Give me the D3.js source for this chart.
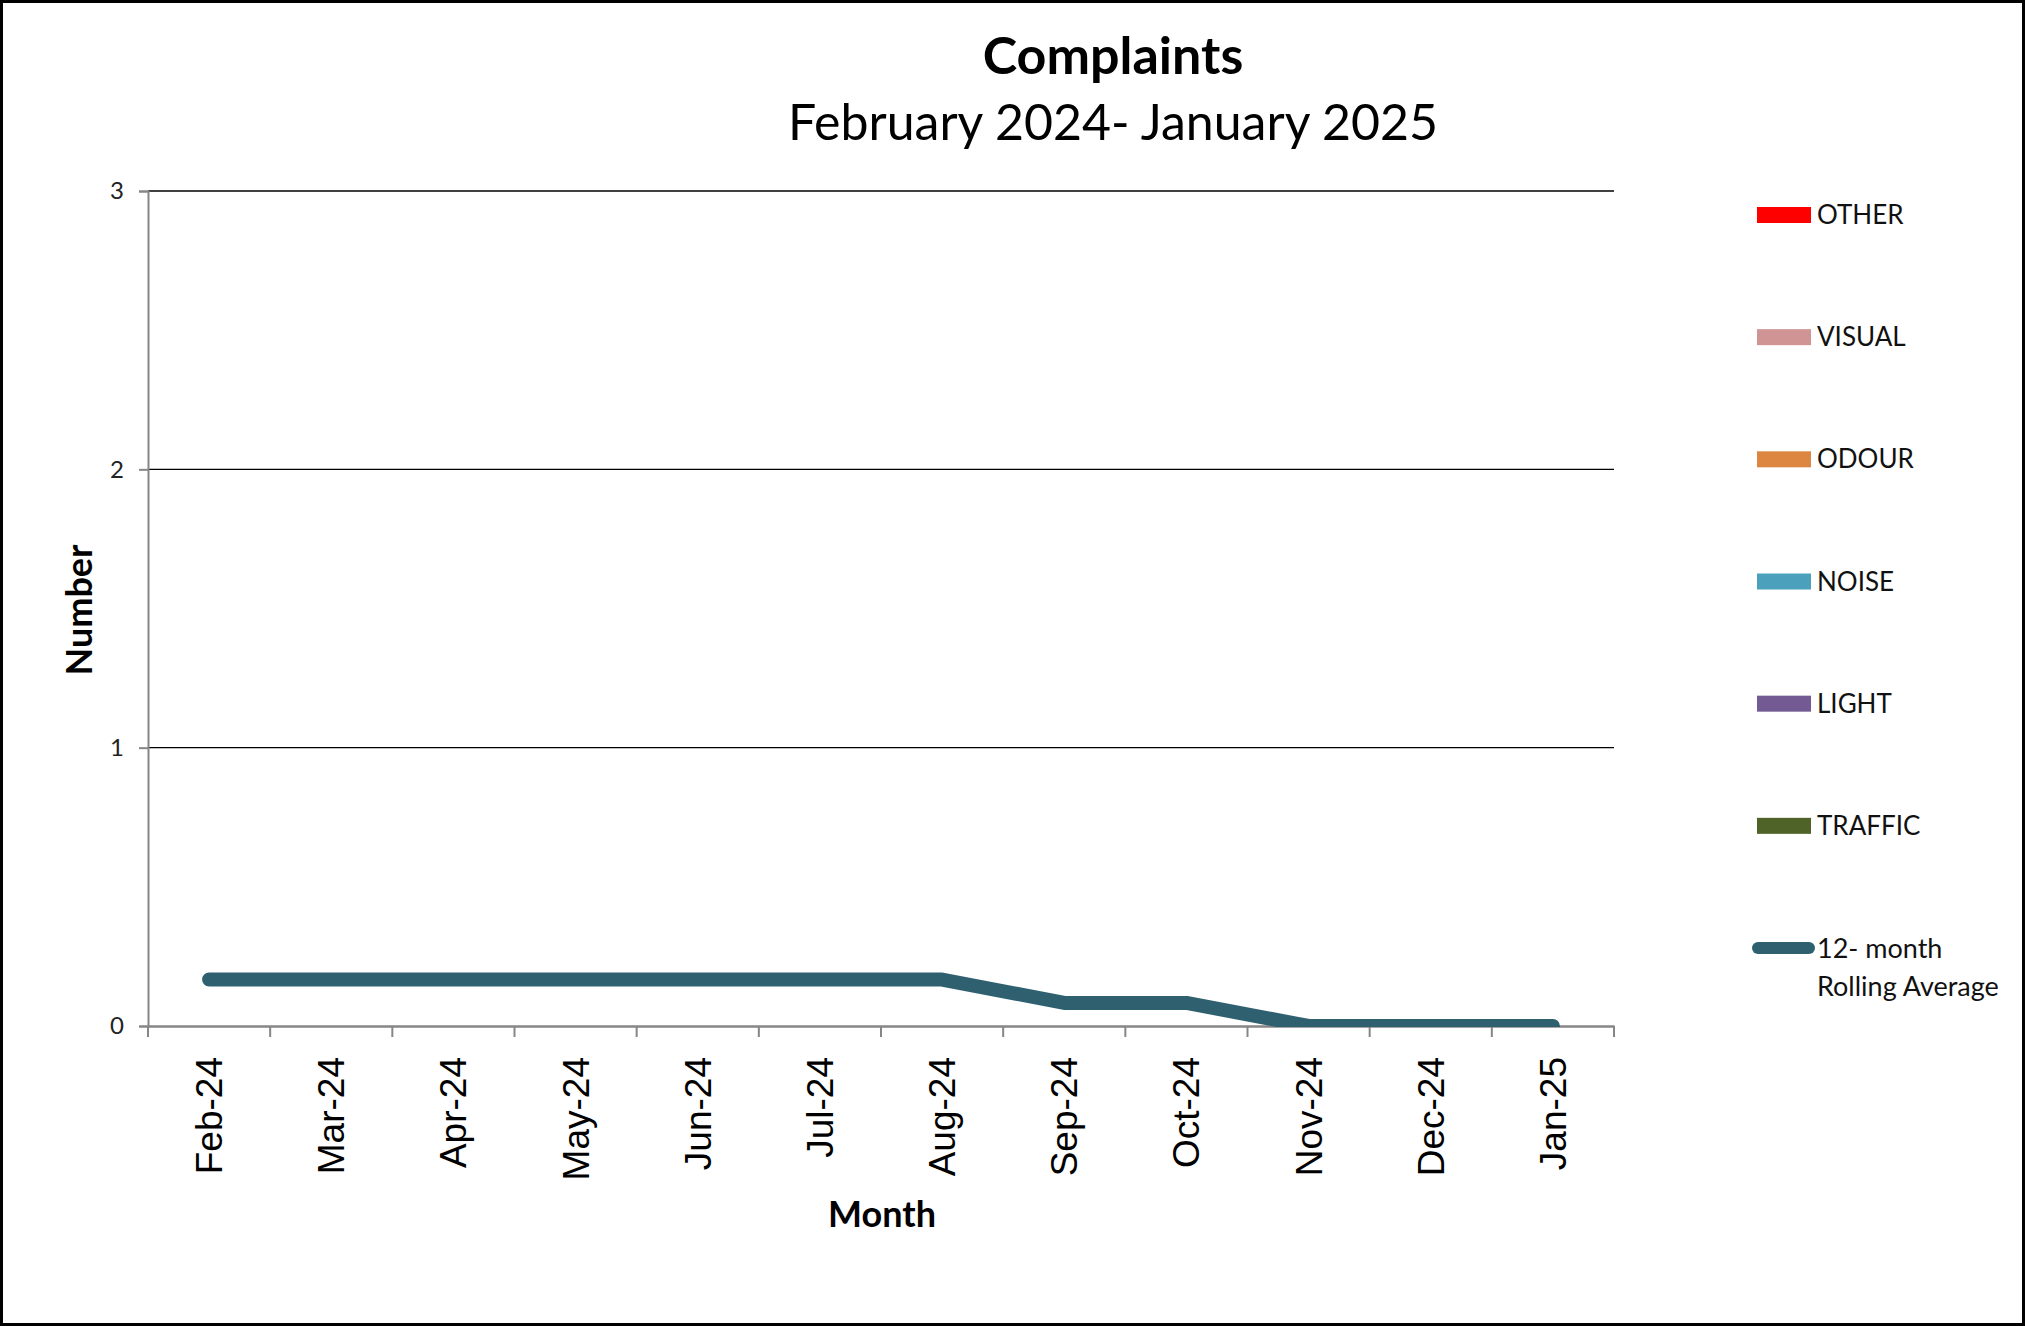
<!DOCTYPE html>
<html>
<head>
<meta charset="utf-8">
<script src="https://cdnjs.cloudflare.com/ajax/libs/d3/7.8.5/d3.min.js"></script>
<style>
  body { margin: 0; background: #fff; }
  svg { display: block; }
</style>
</head>
<body>
<div id="chart"></div>
<script>
// chart data
var months = ['Feb-24', 'Mar-24', 'Apr-24', 'May-24', 'Jun-24', 'Jul-24',
              'Aug-24', 'Sep-24', 'Oct-24', 'Nov-24', 'Dec-24', 'Jan-25'];
var other   = [0, 0, 0, 0, 0, 0, 0, 0, 0, 0, 0, 0];
var visual  = [0, 0, 0, 0, 0, 0, 0, 0, 0, 0, 0, 0];
var odour   = [0, 0, 0, 0, 0, 0, 0, 0, 0, 0, 0, 0];
var noise   = [0, 0, 0, 0, 0, 0, 0, 0, 0, 0, 0, 0];
var light   = [0, 0, 0, 0, 0, 0, 0, 0, 0, 0, 0, 0];
var traffic = [0, 0, 0, 0, 0, 0, 0, 0, 0, 0, 0, 0];
var rollingAvg = [0.167, 0.167, 0.167, 0.167, 0.167, 0.167, 0.167, 0.083, 0.083, 0, 0, 0];
var yTicks = [0, 1, 2, 3];

var seriesNames = ['OTHER', 'VISUAL', 'ODOUR', 'NOISE', 'LIGHT', 'TRAFFIC'];
var seriesColors = ['#ff0000', '#d09494', '#dc8642', '#4ba0bb', '#735a93', '#4f6228'];
var seriesValues = [other, visual, odour, noise, light, traffic];
var lineColor = '#2e6070';

var svgWidth = 2025;
var svgHeight = 1326;

var plot = { left: 148, right: 1614, top: 191, bottom: 1026 };

var svg = d3.select('#chart')
    .append('svg')
    .attr('width', svgWidth)
    .attr('height', svgHeight);

// outer frame
svg.append('rect')
    .attr('x', 1.5).attr('y', 1.5)
    .attr('width', svgWidth - 3).attr('height', svgHeight - 3)
    .attr('fill', '#fff')
    .attr('stroke', '#000')
    .attr('stroke-width', 3);

var xScale = d3.scaleBand()
    .domain(months)
    .range([plot.left, plot.right]);

var yScale = d3.scaleLinear()
    .domain([0, 3])
    .range([plot.bottom, plot.top]);

// gridlines
svg.append('g')
    .selectAll('line')
    .data(yTicks.filter(d => d > 0))
    .enter()
    .append('line')
    .attr('x1', plot.left).attr('x2', plot.right)
    .attr('y1', d => yScale(d)).attr('y2', d => yScale(d))
    .attr('stroke', '#000')
    .attr('stroke-width', 1.3);

// stacked bars (table built from the series arrays)
var table = months.map(function(m, i) {
    var row = { month: m };
    seriesNames.forEach(function(s, j) { row[s] = seriesValues[j][i]; });
    return row;
});
var stacked = d3.stack().keys(seriesNames)(table);

svg.append('g')
    .selectAll('g')
    .data(stacked)
    .enter()
    .append('g')
    .attr('fill', (d, i) => seriesColors[i])
    .selectAll('rect')
    .data(d => d)
    .enter()
    .append('rect')
    .attr('x', d => xScale(d.data.month) + xScale.bandwidth() * 0.2)
    .attr('width', xScale.bandwidth() * 0.6)
    .attr('y', d => yScale(d[1]))
    .attr('height', d => yScale(d[0]) - yScale(d[1]));

// y axis
var leftAxis = d3.axisLeft(yScale).tickValues(yTicks).tickSize(9).tickPadding(15).tickFormat(d3.format('d'));
var yAxisG = svg.append('g')
    .attr('transform', `translate(${plot.left},0)`)
    .call(leftAxis);
yAxisG.select('.domain').attr('stroke', '#868686').attr('stroke-width', 2);
yAxisG.selectAll('.tick line').attr('stroke', '#868686').attr('stroke-width', 2);
yAxisG.selectAll('.tick text')
    .attr('font-family', 'Lato, sans-serif')
    .attr('font-size', '24px')
    .attr('fill', '#222');

// x axis
var bottomAxis = d3.axisBottom(xScale).tickSize(0).tickPadding(0);
var xAxisG = svg.append('g')
    .attr('transform', `translate(0,${plot.bottom})`)
    .call(bottomAxis);
xAxisG.select('.domain').attr('stroke', '#868686').attr('stroke-width', 2.5);
xAxisG.selectAll('.tick text')
    .attr('font-family', '"Liberation Sans", Arial, sans-serif')
    .attr('font-size', '37px')
    .attr('fill', '#000')
    .attr('text-anchor', 'end')
    .attr('transform', 'translate(0,31) rotate(-90)')
    .attr('x', 0)
    .attr('y', 0)
    .attr('dy', '0.35em');

// tick marks on category boundaries
svg.append('g')
    .selectAll('line')
    .data(months.concat(['end']))
    .enter()
    .append('line')
    .attr('x1', (d, i) => plot.left + i * xScale.step())
    .attr('x2', (d, i) => plot.left + i * xScale.step())
    .attr('y1', plot.bottom)
    .attr('y2', plot.bottom + 11)
    .attr('stroke', '#868686')
    .attr('stroke-width', 2);

// rolling average line
svg.append('clipPath')
    .attr('id', 'plotClip')
    .append('rect')
    .attr('x', plot.left).attr('y', plot.top)
    .attr('width', plot.right - plot.left)
    .attr('height', plot.bottom - plot.top + 1);

var line = d3.line()
    .x((d, i) => xScale(months[i]) + xScale.bandwidth() / 2)
    .y(d => yScale(d));

svg.append('path')
    .datum(rollingAvg)
    .attr('clip-path', 'url(#plotClip)')
    .attr('d', line)
    .attr('fill', 'none')
    .attr('stroke', lineColor)
    .attr('stroke-width', 14)
    .attr('stroke-linecap', 'round')
    .attr('stroke-linejoin', 'round');

// titles
svg.append('text')
    .attr('x', 1113).attr('y', 74)
    .attr('text-anchor', 'middle')
    .attr('font-family', 'Lato, sans-serif')
    .attr('font-weight', 'bold')
    .attr('font-size', '52px')
    .text('Complaints');

svg.append('text')
    .attr('x', 1113).attr('y', 140)
    .attr('text-anchor', 'middle')
    .attr('font-family', 'Lato, sans-serif')
    .attr('font-size', '50px')
    .text('February 2024- January 2025');

svg.append('text')
    .attr('x', 882).attr('y', 1227)
    .attr('text-anchor', 'middle')
    .attr('font-family', 'Lato, sans-serif')
    .attr('font-weight', 'bold')
    .attr('font-size', '36px')
    .text('Month');

svg.append('text')
    .attr('transform', 'translate(92,610) rotate(-90)')
    .attr('text-anchor', 'middle')
    .attr('font-family', 'Lato, sans-serif')
    .attr('font-weight', 'bold')
    .attr('font-size', '36px')
    .text('Number');

// legend
var legend = svg.append('g');
var legendY = d3.scaleLinear().domain([0, 6]).range([215, 948]);

seriesNames.forEach(function(name, i) {
    legend.append('rect')
        .attr('x', 1757).attr('y', legendY(i) - 8)
        .attr('width', 54).attr('height', 16)
        .attr('fill', seriesColors[i]);
    legend.append('text')
        .attr('x', 1817).attr('y', legendY(i) + 9)
        .attr('font-family', 'Lato, sans-serif')
        .attr('font-size', '26px')
        .attr('fill', '#111')
        .text(name);
});

legend.append('line')
    .attr('x1', 1758).attr('x2', 1809)
    .attr('y1', legendY(6)).attr('y2', legendY(6))
    .attr('stroke', lineColor)
    .attr('stroke-width', 12)
    .attr('stroke-linecap', 'round');

var lt = legend.append('text')
    .attr('font-family', 'Lato, sans-serif')
    .attr('font-size', '27px')
    .attr('fill', '#111');
lt.append('tspan').attr('x', 1817).attr('y', legendY(6) + 10).text('12- month');
lt.append('tspan').attr('x', 1817).attr('y', legendY(6) + 48).text('Rolling Average');
</script>
</body>
</html>
